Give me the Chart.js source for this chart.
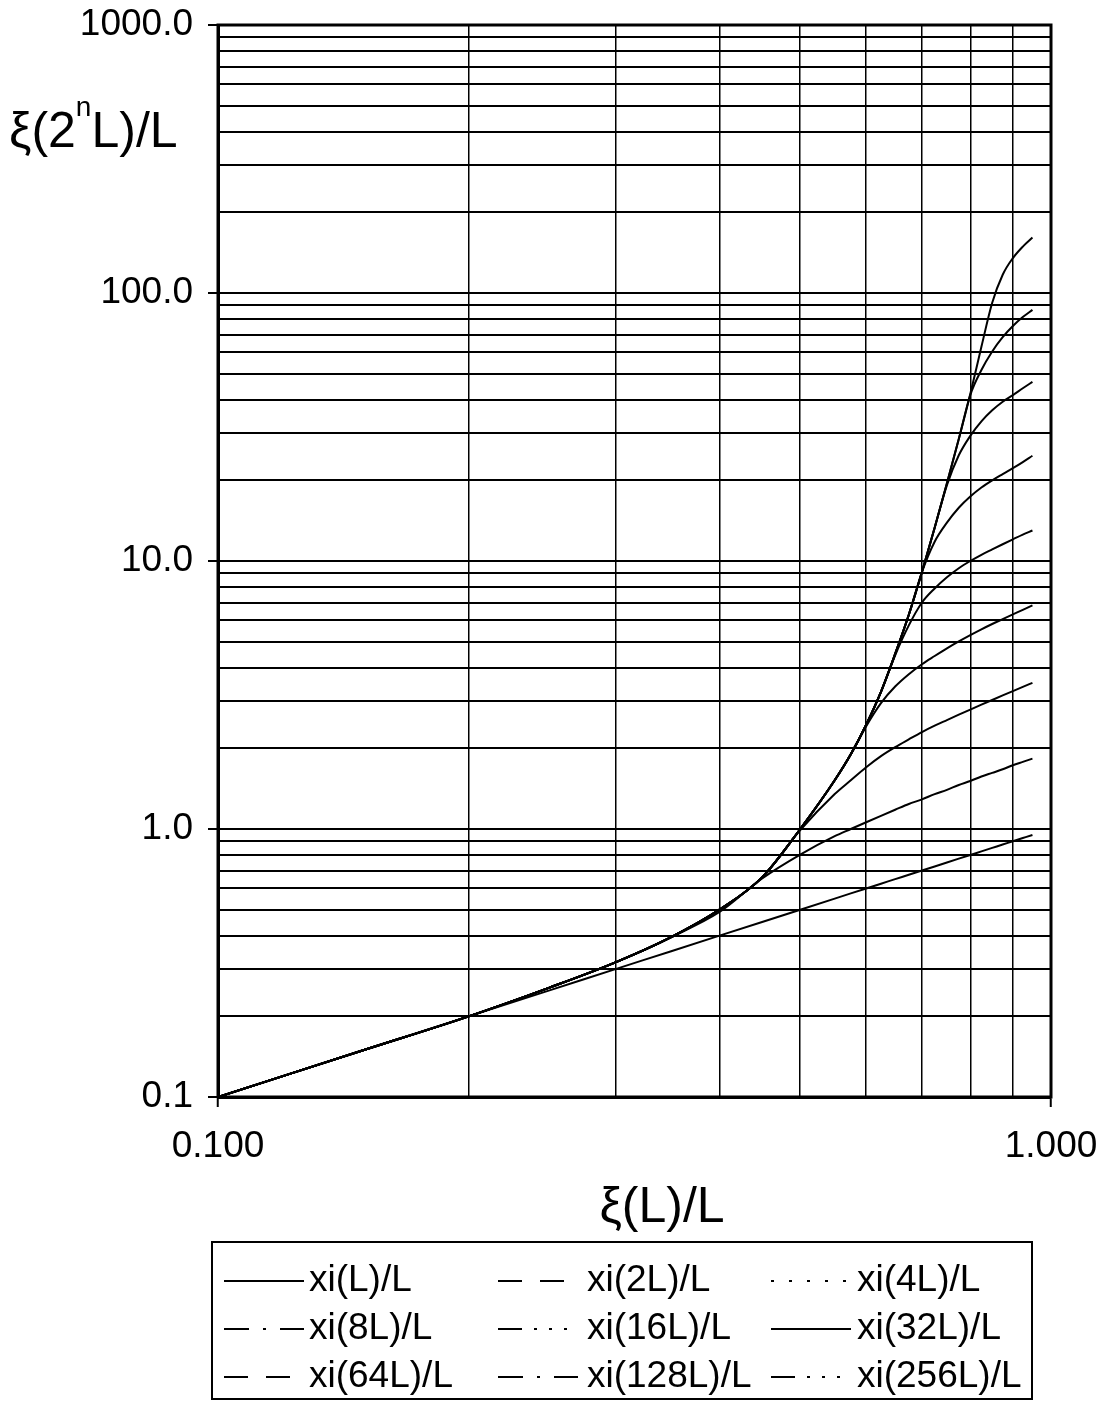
<!DOCTYPE html>
<html>
<head>
<meta charset="utf-8">
<script src="https://cdn.jsdelivr.net/npm/chart.js@4.4.1/dist/chart.umd.min.js"></script>
<style>
  html, body { margin: 0; padding: 0; background: #fff; }
  #wrap { width: 1106px; height: 1402px; }
</style>
</head>
<body>
<div id="wrap"><canvas id="xiChart" width="1106" height="1402"></canvas></div>
<script>
// xi(L)/L along the x axis
const xiOverL = [0.10, 0.15, 0.20, 0.25, 0.30, 0.35, 0.40, 0.45, 0.50, 0.55, 0.575, 0.60, 0.625,
                 0.65, 0.675, 0.70, 0.725, 0.75, 0.775, 0.80, 0.825, 0.85, 0.875, 0.90, 0.925, 0.95];

// xi(2^n L)/L at the same points, n = 0..8
const xiL    = [0.10, 0.15, 0.20, 0.25, 0.30, 0.35, 0.40, 0.45, 0.50, 0.55, 0.575, 0.60, 0.625,
                0.65, 0.675, 0.70, 0.725, 0.75, 0.775, 0.80, 0.825, 0.85, 0.875, 0.90, 0.925, 0.95];
const xi2L   = [0.100, 0.150, 0.200, 0.256, 0.318, 0.395, 0.49, 0.654, 0.803, 0.940, 1.00, 1.06, 1.12,
                1.18, 1.24, 1.29, 1.35, 1.40, 1.46, 1.51, 1.57, 1.62, 1.67, 1.73, 1.78, 1.83];
const xi4L   = [0.100, 0.150, 0.200, 0.256, 0.318, 0.395, 0.50, 0.66, 0.99, 1.35, 1.52, 1.70, 1.87,
                2.02, 2.16, 2.30, 2.43, 2.55, 2.67, 2.79, 2.91, 3.03, 3.15, 3.27, 3.39, 3.51];
const xi8L   = [0.100, 0.150, 0.200, 0.256, 0.318, 0.395, 0.50, 0.66, 1.00, 1.52, 1.90, 2.42, 2.95,
                3.40, 3.78, 4.12, 4.42, 4.72, 5.01, 5.29, 5.56, 5.82, 6.07, 6.32, 6.57, 6.83];
const xi16L  = [0.100, 0.150, 0.200, 0.256, 0.318, 0.395, 0.50, 0.66, 1.00, 1.52, 1.90, 2.45, 3.25,
                4.45, 5.75, 7.0, 7.9, 8.7, 9.4, 10.0, 10.55, 11.05, 11.55, 12.05, 12.55, 13.0];
const xi32L  = [0.100, 0.150, 0.200, 0.256, 0.318, 0.395, 0.50, 0.66, 1.00, 1.52, 1.90, 2.45, 3.25,
                4.5, 6.3, 9.1, 11.8, 13.9, 15.8, 17.4, 18.8, 20.0, 21.1, 22.2, 23.4, 24.7];
const xi64L  = [0.100, 0.150, 0.200, 0.256, 0.318, 0.395, 0.50, 0.66, 1.00, 1.52, 1.90, 2.45, 3.25,
                4.5, 6.3, 9.1, 13.3, 19.2, 24.8, 29.3, 33.2, 36.5, 39.3, 41.6, 44.1, 46.6];
const xi128L = [0.100, 0.150, 0.200, 0.256, 0.318, 0.395, 0.50, 0.66, 1.00, 1.52, 1.90, 2.45, 3.25,
                4.5, 6.3, 9.1, 13.3, 19.5, 28.5, 41.6, 51.6, 60.5, 68.4, 75.3, 81.3, 86.5];
const xi256L = [0.100, 0.150, 0.200, 0.256, 0.318, 0.395, 0.50, 0.66, 1.00, 1.52, 1.90, 2.45, 3.25,
                4.5, 6.3, 9.1, 13.3, 19.5, 28.5, 42, 63, 92, 117, 135, 149, 161];

const seriesNames = ['xi(L)/L', 'xi(2L)/L', 'xi(4L)/L', 'xi(8L)/L', 'xi(16L)/L',
                     'xi(32L)/L', 'xi(64L)/L', 'xi(128L)/L', 'xi(256L)/L'];
const seriesValues = [xiL, xi2L, xi4L, xi8L, xi16L, xi32L, xi64L, xi128L, xi256L];

// grid positions and the labelled ticks
const xTicks = [0.1, 0.2, 0.3, 0.4, 0.5, 0.6, 0.7, 0.8, 0.9, 1.0];
const xMajor = [0.1, 1.0];
const xLabels = ['0.100', '1.000'];
const yTicks = [0.1, 0.2, 0.3, 0.4, 0.5, 0.6, 0.7, 0.8, 0.9,
                1, 2, 3, 4, 5, 6, 7, 8, 9,
                10, 20, 30, 40, 50, 60, 70, 80, 90,
                100, 200, 300, 400, 500, 600, 700, 800, 900, 1000];
const yMajor = [0.1, 1, 10, 100, 1000];
const yLabels = ['0.1', '1.0', '10.0', '100.0', '1000.0'];

// dash patterns used for the legend samples
const legendDash = [[], [24, 18], [3, 15], [25, 14, 3, 14], [24, 12, 3, 12, 3, 12, 3, 12],
                    [], [24, 18], [25, 14, 3, 14], [24, 12, 3, 12, 3, 12, 3, 12]];

const FONT = '"Liberation Sans", Arial, Helvetica, sans-serif';

function majorIndex(list, v) {
    return list.findIndex(m => Math.abs(m - v) / m < 1e-6);
}

const frameAndText = {
    id: 'frameAndText',
    afterDraw(chart) {
        const { ctx, chartArea: a } = chart;
        ctx.save();
        ctx.strokeStyle = '#000';
        ctx.fillStyle = '#000';

        // plot frame
        ctx.lineWidth = 3;
        ctx.strokeRect(a.left, a.top, a.right - a.left, a.bottom - a.top);

        // y title: xi(2^n L)/L, written flat in the top-left corner
        ctx.textBaseline = 'alphabetic';
        ctx.textAlign = 'left';
        let x = 9;
        ctx.font = '50px ' + FONT;
        ctx.fillText('\u03BE(2', x, 147);
        x += ctx.measureText('\u03BE(2').width;
        ctx.font = '28px ' + FONT;
        ctx.fillText('n', x, 116);
        x += ctx.measureText('n').width;
        ctx.font = '50px ' + FONT;
        ctx.fillText('L)/L', x, 147);

        // x title
        ctx.textAlign = 'center';
        ctx.fillText('\u03BE(L)/L', 662, 1222);

        // legend box
        ctx.lineWidth = 2;
        ctx.strokeRect(212, 1242, 820, 157);
        const lineX = [224, 498, 771];
        const textX = [309, 587, 857];
        const rowY = [1281, 1329, 1377];
        ctx.font = '37px ' + FONT;
        ctx.textAlign = 'left';
        ctx.textBaseline = 'middle';
        chart.data.datasets.forEach((ds, i) => {
            const col = i % 3;
            const cy = rowY[Math.floor(i / 3)];
            ctx.setLineDash(legendDash[i]);
            ctx.beginPath();
            ctx.moveTo(lineX[col], cy);
            ctx.lineTo(lineX[col] + 80, cy);
            ctx.stroke();
            ctx.setLineDash([]);
            ctx.fillText(ds.label, textX[col], cy);
        });
        ctx.restore();
    }
};

new Chart(document.getElementById('xiChart'), {
    type: 'line',
    data: {
        datasets: seriesValues.map((vals, i) => ({
            label: seriesNames[i],
            data: xiOverL.map((x, j) => ({ x: x, y: vals[j] })),
            borderColor: '#000',
            borderWidth: 2,
            pointRadius: 0,
            fill: false,
            cubicInterpolationMode: 'monotone'
        }))
    },
    options: {
        responsive: false,
        animation: false,
        devicePixelRatio: 1,
        layout: { padding: { left: 0, top: 25, right: 55, bottom: 162 } },
        plugins: { legend: { display: false }, tooltip: { enabled: false } },
        scales: {
            x: {
                type: 'logarithmic',
                min: 0.1,
                max: 1.0,
                afterBuildTicks: (s) => { s.ticks = xTicks.map(v => ({ value: v })); },
                afterFit: (s) => { s.height = 143; s.paddingLeft = 0; s.paddingRight = 0; },
                grid: {
                    color: '#000',
                    lineWidth: 1.5,
                    tickLength: 10,
                    tickWidth: 2,
                    tickColor: (c) => majorIndex(xMajor, c.tick.value) >= 0 ? '#000' : 'rgba(0,0,0,0)'
                },
                border: { display: true, color: '#000', width: 3 },
                ticks: {
                    autoSkip: false,
                    maxRotation: 0,
                    padding: 18,
                    color: '#000',
                    font: { family: FONT, size: 37 },
                    callback: (v) => { const k = majorIndex(xMajor, v); return k >= 0 ? xLabels[k] : ''; }
                }
            },
            y: {
                type: 'logarithmic',
                min: 0.1,
                max: 1000,
                afterBuildTicks: (s) => { s.ticks = yTicks.map(v => ({ value: v })); },
                afterFit: (s) => { s.width = 218; s.paddingTop = 0; s.paddingBottom = 0; },
                grid: {
                    color: '#000',
                    lineWidth: 2,
                    tickLength: 10,
                    tickWidth: 2,
                    tickColor: (c) => majorIndex(yMajor, c.tick.value) >= 0 ? '#000' : 'rgba(0,0,0,0)'
                },
                border: { display: true, color: '#000', width: 3 },
                ticks: {
                    autoSkip: false,
                    padding: 15,
                    color: '#000',
                    font: { family: FONT, size: 37 },
                    callback: (v) => { const k = majorIndex(yMajor, v); return k >= 0 ? yLabels[k] : ''; }
                }
            }
        }
    },
    plugins: [frameAndText]
});
</script>
</body>
</html>
